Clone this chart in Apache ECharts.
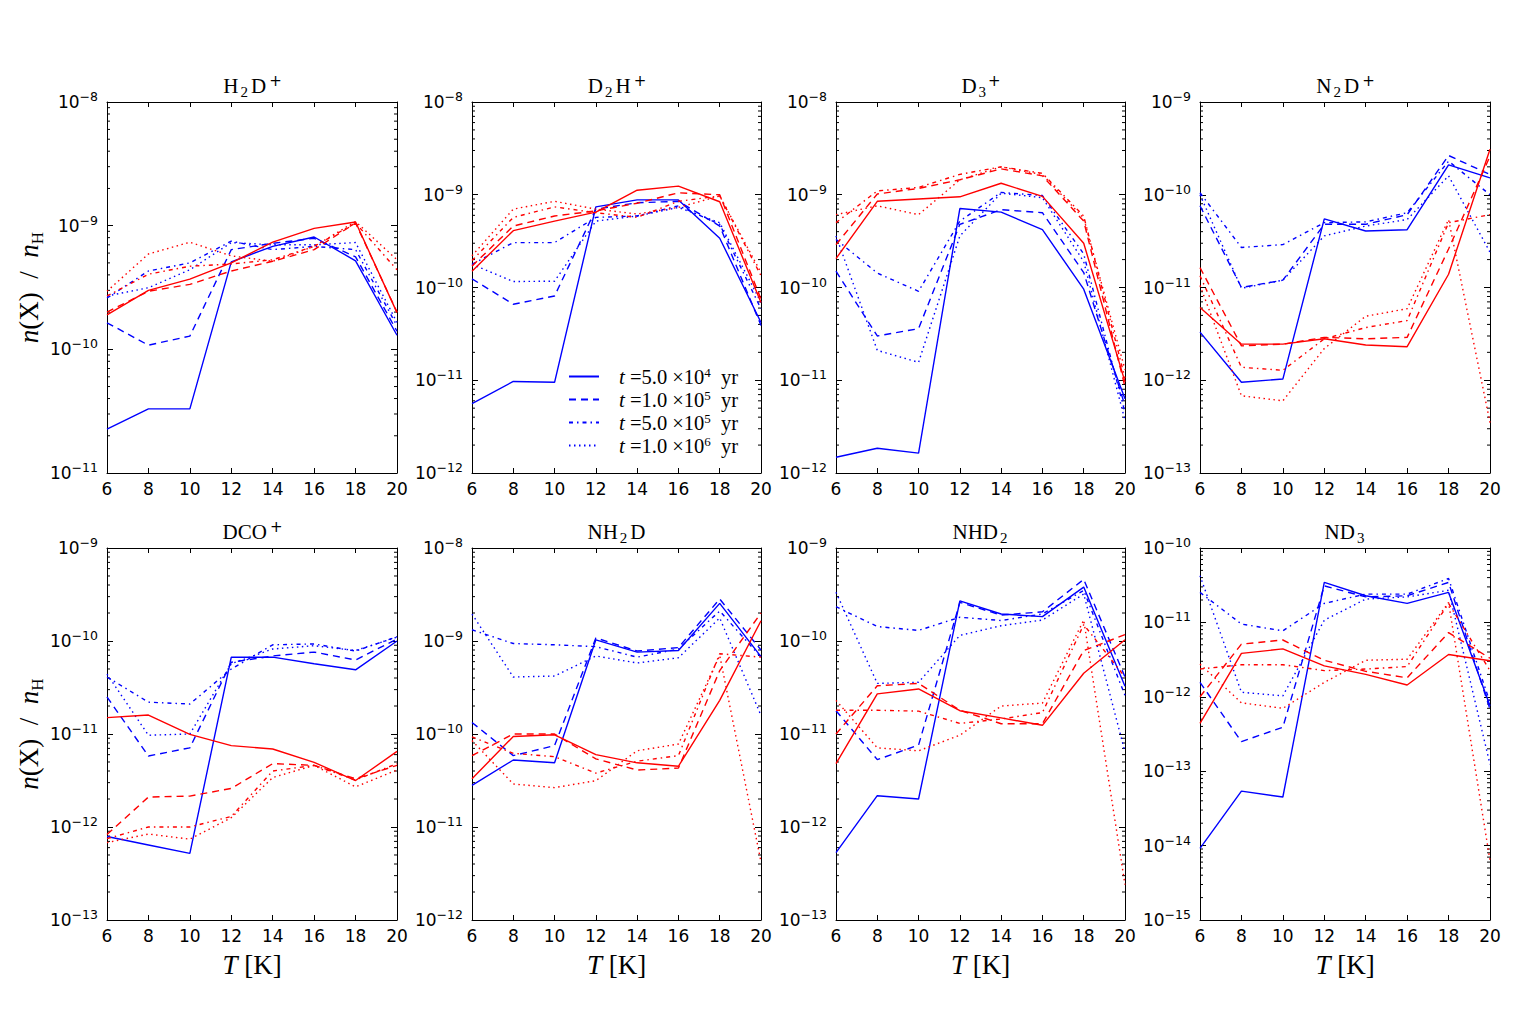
<!DOCTYPE html>
<html>
<head>
<meta charset="utf-8">
<script src="https://cdn.jsdelivr.net/npm/echarts@6/dist/echarts.min.js"></script>
<style>
  html, body { margin: 0; padding: 0; background: #fff; }
  #container { width: 1536px; height: 1024px; }
</style>
</head>
<body>
<div id="container"></div>
<script>
var dom = document.getElementById('container');
var myChart = echarts.init(dom, null, { renderer: 'svg' });

// temperatures (K)
const temps = [6, 8, 10, 12, 14, 16, 18, 20];
const timeNames = ['t=5.0e4', 't=1.0e5', 't=5.0e5', 't=1.0e6'];
const timeLegend = ['{i|t}{n| =5.0 ×10}{s|4}{n|  yr}', '{i|t}{n| =1.0 ×10}{s|5}{n|  yr}',
                    '{i|t}{n| =5.0 ×10}{s|5}{n|  yr}', '{i|t}{n| =1.0 ×10}{s|6}{n|  yr}'];

// rows: 5e4, 1e5, 5e5, 1e6 yr
const H2Dp_blue = [
  [2.26e-11, 3.3e-11, 3.3e-11, 5.1e-10, 6.8e-10, 8.1e-10, 5.2e-10, 1.3e-10],
  [1.64e-10, 1.08e-10, 1.28e-10, 6.4e-10, 7.2e-10, 7.9e-10, 5.6e-10, 1.4e-10],
  [2.6e-10, 4.3e-10, 5.0e-10, 7.5e-10, 6.4e-10, 6.8e-10, 6.4e-10, 1.55e-10],
  [2.7e-10, 3.15e-10, 4.4e-10, 7.3e-10, 7.0e-10, 7.0e-10, 7.3e-10, 1.65e-10]];
const H2Dp_red = [
  [1.9e-10, 3.0e-10, 3.7e-10, 5.0e-10, 7.35e-10, 9.5e-10, 1.07e-9, 1.98e-10],
  [2.0e-10, 2.95e-10, 3.35e-10, 4.3e-10, 5.15e-10, 6.4e-10, 1.05e-9, 2.0e-10],
  [2.7e-10, 4.05e-10, 4.7e-10, 4.9e-10, 5.3e-10, 6.8e-10, 1.05e-9, 4.4e-10],
  [2.95e-10, 5.9e-10, 7.35e-10, 5.7e-10, 5.15e-10, 6.8e-10, 1.08e-9, 5.3e-10]];

const D2Hp_blue = [
  [5.6e-12, 9.7e-12, 9.5e-12, 7.4e-10, 8.8e-10, 8.8e-10, 3.4e-10, 4.2e-11],
  [1.24e-10, 6.6e-11, 8.1e-11, 7.0e-10, 8.2e-10, 8.5e-10, 4.6e-10, 3.9e-11],
  [1.78e-10, 3.05e-10, 3.05e-10, 5.7e-10, 5.9e-10, 7.6e-10, 4.8e-10, 5.9e-11],
  [1.78e-10, 1.16e-10, 1.17e-10, 5.2e-10, 5.9e-10, 7.3e-10, 5.0e-10, 6.9e-11]];
const D2Hp_red = [
  [1.5e-10, 4.1e-10, 5.2e-10, 6.5e-10, 1.12e-9, 1.24e-9, 8.4e-10, 6.9e-11],
  [1.7e-10, 4.6e-10, 5.9e-10, 6.7e-10, 8.1e-10, 1.05e-9, 1.0e-9, 7.5e-11],
  [1.95e-10, 5.7e-10, 7.4e-10, 6.4e-10, 5.7e-10, 8.5e-10, 9.7e-10, 1.34e-10],
  [2.2e-10, 7.0e-10, 8.5e-10, 7.0e-10, 6.2e-10, 7.3e-10, 9.7e-10, 1.45e-10]];

const D3p_blue = [
  [1.48e-12, 1.85e-12, 1.64e-12, 7.1e-10, 6.5e-10, 4.2e-10, 9.6e-11, 6.3e-12],
  [1.5e-10, 3.0e-11, 3.6e-11, 4.8e-10, 6.9e-10, 6.4e-10, 1.45e-10, 5.3e-12],
  [3.3e-10, 1.43e-10, 9.1e-11, 5.2e-10, 1.06e-9, 9.8e-10, 2.3e-10, 4.5e-12],
  [3.6e-10, 2.1e-11, 1.56e-11, 3.6e-10, 1.04e-9, 9.3e-10, 1.9e-10, 3.7e-12]];
const D3p_red = [
  [2.05e-10, 8.5e-10, 9.0e-10, 9.5e-10, 1.33e-9, 9.6e-10, 3.0e-10, 9.6e-12],
  [2.9e-10, 1.02e-9, 1.17e-9, 1.45e-9, 1.9e-9, 1.6e-9, 5.2e-10, 8.5e-12],
  [5.0e-10, 1.1e-9, 1.2e-9, 1.66e-9, 2.0e-9, 1.7e-9, 5.9e-10, 1.05e-11],
  [6.1e-10, 7.6e-10, 6.1e-10, 1.45e-9, 2.0e-9, 1.65e-9, 5.6e-10, 1.3e-11]];

const N2Dp_blue = [
  [3.3e-12, 9.5e-13, 1.03e-12, 5.5e-11, 4.07e-11, 4.2e-11, 2.1e-10, 1.52e-10],
  [7.6e-11, 1.0e-11, 1.2e-11, 4.8e-11, 4.8e-11, 6.1e-11, 2.65e-10, 1.65e-10],
  [1.05e-10, 2.7e-11, 2.9e-11, 5.0e-11, 5.1e-11, 6.4e-11, 2.3e-10, 1.0e-10],
  [1.0e-10, 9.8e-12, 1.2e-11, 3.6e-11, 4.6e-11, 5.4e-11, 1.6e-10, 2.4e-11]];
const N2Dp_red = [
  [6.1e-12, 2.45e-12, 2.45e-12, 2.8e-12, 2.4e-12, 2.3e-12, 1.39e-11, 3.1e-10],
  [1.64e-11, 2.35e-12, 2.45e-12, 2.9e-12, 2.8e-12, 2.9e-12, 2.6e-11, 2.6e-10],
  [1.34e-11, 1.38e-12, 1.28e-12, 2.8e-12, 3.7e-12, 4.4e-12, 5.0e-11, 6.1e-11],
  [1.05e-11, 6.8e-13, 6.0e-13, 2.2e-12, 4.9e-12, 5.9e-12, 5.4e-11, 3.5e-13]];

const DCOp_blue = [
  [7.9e-13, 6.4e-13, 5.2e-13, 6.7e-11, 6.7e-11, 5.7e-11, 4.9e-11, 1.0e-10],
  [2.5e-11, 5.8e-12, 7.1e-12, 5.9e-11, 6.9e-11, 7.6e-11, 6.25e-11, 1.05e-10],
  [4.1e-11, 2.2e-11, 2.1e-11, 5.0e-11, 9.1e-11, 9.3e-11, 7.8e-11, 1.11e-10],
  [4.4e-11, 9.7e-12, 1.0e-11, 5.7e-11, 8.2e-11, 8.9e-11, 7.9e-11, 1.1e-10]];
const DCOp_red = [
  [1.5e-11, 1.6e-11, 9.9e-12, 7.5e-12, 6.9e-12, 4.95e-12, 3.16e-12, 6.5e-12],
  [8.3e-13, 2.1e-12, 2.15e-12, 2.6e-12, 4.8e-12, 4.6e-12, 3.3e-12, 4.6e-12],
  [7.5e-13, 1.0e-12, 1.0e-12, 1.3e-12, 4.0e-12, 4.6e-12, 3.2e-12, 4.8e-12],
  [6.8e-13, 8.4e-13, 7.4e-13, 1.26e-12, 3.4e-12, 4.6e-12, 2.7e-12, 4.1e-12]];

const NH2D_blue = [
  [2.8e-11, 5.25e-11, 4.9e-11, 1.03e-9, 7.6e-10, 7.9e-10, 2.54e-9, 6.8e-10],
  [1.33e-10, 5.85e-11, 7.5e-11, 1.08e-9, 7.8e-10, 8.5e-10, 2.83e-9, 8.0e-10],
  [1.32e-9, 9.4e-10, 9.1e-10, 8.7e-10, 6.7e-10, 8.2e-10, 2.1e-9, 6.7e-10],
  [1.95e-9, 4.1e-10, 4.2e-10, 6.9e-10, 5.8e-10, 6.6e-10, 1.77e-9, 1.58e-10]];
const NH2D_red = [
  [3.3e-11, 9.4e-11, 9.8e-11, 6.0e-11, 4.9e-11, 4.5e-11, 2.3e-10, 1.65e-9],
  [5.85e-11, 1.0e-10, 1.0e-10, 5.4e-11, 4.1e-11, 4.3e-11, 4.8e-10, 2.0e-9],
  [9.3e-11, 6.2e-11, 5.7e-11, 3.8e-11, 5.1e-11, 5.85e-11, 7.3e-10, 6.7e-10],
  [8.5e-11, 2.9e-11, 2.65e-11, 3.15e-11, 6.6e-11, 7.8e-11, 7.0e-10, 4.2e-12]];

const NHD2_blue = [
  [5.3e-13, 2.17e-12, 2.0e-12, 2.7e-10, 1.95e-10, 1.83e-10, 3.8e-10, 3.26e-11],
  [1.78e-11, 5.3e-12, 7.6e-12, 2.6e-10, 1.9e-10, 2.06e-10, 4.6e-10, 4.1e-11],
  [2.34e-10, 1.43e-10, 1.3e-10, 1.8e-10, 1.66e-10, 1.95e-10, 3.5e-10, 2.6e-11],
  [3.34e-10, 3.5e-11, 3.6e-11, 1.15e-10, 1.46e-10, 1.68e-10, 3.2e-10, 6.4e-12]];
const NHD2_red = [
  [4.8e-12, 2.7e-11, 3.05e-11, 1.78e-11, 1.49e-11, 1.24e-11, 4.5e-11, 1.03e-10],
  [1.0e-11, 3.3e-11, 3.5e-11, 1.8e-11, 1.29e-11, 1.29e-11, 7.9e-11, 1.17e-10],
  [1.8e-11, 1.8e-11, 1.76e-11, 1.3e-11, 1.45e-11, 1.7e-11, 1.5e-10, 4.1e-11],
  [2.3e-11, 7.1e-12, 6.6e-12, 9.7e-12, 2.0e-11, 2.15e-11, 1.68e-10, 2.4e-13]];

const ND3_blue = [
  [9.2e-15, 5.4e-14, 4.5e-14, 3.45e-11, 2.28e-11, 1.8e-11, 2.53e-11, 7.6e-13],
  [1.56e-12, 2.5e-13, 3.9e-13, 3.1e-11, 2.2e-11, 2.28e-11, 3.45e-11, 6.8e-13],
  [2.53e-11, 9.5e-12, 7.7e-12, 1.8e-11, 2.4e-11, 2.4e-11, 3.9e-11, 8.4e-13],
  [4.25e-11, 1.15e-12, 1.03e-12, 1.07e-11, 2.06e-11, 2.2e-11, 2.7e-11, 1.24e-13]];
const ND3_red = [
  [4.4e-13, 3.83e-12, 4.4e-12, 2.6e-12, 2.0e-12, 1.44e-12, 3.7e-12, 3.05e-12],
  [1.0e-12, 5.1e-12, 5.8e-12, 3.1e-12, 2.2e-12, 1.8e-12, 7.3e-12, 3.3e-12],
  [2.36e-12, 2.7e-12, 2.7e-12, 2.25e-12, 2.36e-12, 2.55e-12, 1.8e-11, 2.25e-12],
  [2.75e-12, 8.3e-13, 7.0e-13, 1.56e-12, 3.1e-12, 3.2e-12, 1.85e-11, 6.3e-15]];

const panels = [
  { title: '{n|H}{b|2}{n|D}{p|+}', lo: -11, hi: -8, blue: H2Dp_blue, red: H2Dp_red },
  { title: '{n|D}{b|2}{n|H}{p|+}', lo: -12, hi: -8, blue: D2Hp_blue, red: D2Hp_red },
  { title: '{n|D}{b|3}{q|+}', lo: -12, hi: -8, blue: D3p_blue, red: D3p_red },
  { title: '{n|N}{b|2}{n|D}{p|+}', lo: -13, hi: -9, blue: N2Dp_blue, red: N2Dp_red },
  { title: '{n|DCO}{p|+}', lo: -13, hi: -9, blue: DCOp_blue, red: DCOp_red },
  { title: '{n|NH}{b|2}{n|D}', lo: -12, hi: -8, blue: NH2D_blue, red: NH2D_red },
  { title: '{n|NHD}{b|2}', lo: -13, hi: -9, blue: NHD2_blue, red: NHD2_red },
  { title: '{n|ND}{b|3}', lo: -15, hi: -10, blue: ND3_blue, red: ND3_red }
];

const dashes = ['solid', [7, 5], [4, 4, 1.5, 4], [1.5, 3.5]];
const lefts = [107, 472, 836, 1200];
const widths = [290, 289, 289, 290];
const tops = [102, 548];
const heights = [371, 372];

const serif = 'Liberation Serif';
const sans = 'DejaVu Sans';
const titleRich = {
  n: { fontFamily: serif, fontSize: 21, lineHeight: 26, color: '#000', padding: [0, 1, 0, 1] },
  b: { fontFamily: serif, fontSize: 15, lineHeight: 15, verticalAlign: 'bottom', color: '#000', padding: [0, 2, 0, 1] },
  p: { fontFamily: sans, fontSize: 15, lineHeight: 14, verticalAlign: 'top', color: '#000', padding: [0, 0, 0, 2] },
  q: { fontFamily: sans, fontSize: 15, lineHeight: 14, verticalAlign: 'top', color: '#000', padding: [0, 0, 0, 0] }
};
const tickRich = {
  b: { fontFamily: sans, fontSize: 17, lineHeight: 24, color: '#000' },
  e: { fontFamily: sans, fontSize: 12.5, lineHeight: 13, verticalAlign: 'top', color: '#000' }
};
const nameRich = {
  i: { fontFamily: serif, fontStyle: 'italic', fontSize: 27, lineHeight: 34, color: '#000' },
  n: { fontFamily: serif, fontSize: 27, lineHeight: 34, color: '#000' },
  s: { fontFamily: serif, fontSize: 17, lineHeight: 17, verticalAlign: 'bottom', color: '#000' }
};

const frame = { show: true, onZero: false, lineStyle: { color: '#000', width: 1 } };
const tick = { show: true, inside: true, length: 5, lineStyle: { color: '#000', width: 1 } };

const grids = [], xAxes = [], yAxes = [], series = [];

panels.forEach(function (p, i) {
  const row = Math.floor(i / 4), col = i % 4;
  grids.push({ left: lefts[col], top: tops[row], width: widths[col], height: heights[row] });

  xAxes.push({
    gridIndex: i, type: 'value', min: 6, max: 20, interval: 2, position: 'bottom',
    axisLine: frame, axisTick: tick, splitLine: { show: false },
    axisLabel: { fontFamily: sans, fontSize: 17, color: '#000', margin: 7 },
    name: row === 1 ? '{i|T}{n| [K]}' : '', nameLocation: 'middle', nameGap: 28,
    nameTextStyle: { rich: nameRich }
  });
  xAxes.push({
    gridIndex: i, type: 'value', min: 6, max: 20, interval: 2, position: 'top',
    axisLine: frame, axisTick: tick, splitLine: { show: false }, axisLabel: { show: false },
    name: p.title, nameLocation: 'middle', nameGap: 3,
    nameTextStyle: { rich: titleRich }
  });
  yAxes.push({
    gridIndex: i, type: 'log', logBase: 10, min: Number('1e' + p.lo), max: Number('1e' + p.hi),
    position: 'left', axisLine: frame, axisTick: { show: true, inside: true, length: 6, lineStyle: { color: '#000' } },
    splitLine: { show: false },
    axisLabel: {
      margin: 9, fontFamily: sans, fontSize: 17, color: '#000',
      formatter: function (v) { return '{b|10}{e|' + String(Math.round(Math.log10(v))).replace('-', '\u2212') + '}'; },
      rich: tickRich
    },
    name: col === 0 ? '{i|n}{n|(X)  /  }{i|n}{s|H}' : '', nameLocation: 'middle', nameGap: 50,
    nameRotate: 90, nameTextStyle: { rich: nameRich }
  });
  yAxes.push({
    gridIndex: i, type: 'log', logBase: 10, min: Number('1e' + p.lo), max: Number('1e' + p.hi),
    position: 'right', axisLine: frame, axisTick: { show: true, inside: true, length: 6, lineStyle: { color: '#000' } },
    splitLine: { show: false }, axisLabel: { show: false }
  });

  // minor log ticks (2..9 x 10^n) on both sides
  const minor = [];
  for (let e = p.lo; e < p.hi; e++) {
    for (let k = 2; k <= 9; k++) minor.push([6, k * Number('1e' + e)]);
  }
  series.push({
    type: 'custom', xAxisIndex: 2 * i, yAxisIndex: 2 * i, silent: true, clip: false,
    data: minor,
    renderItem: function (params, api) {
      const v = api.value(1);
      const l = api.coord([6, v]);
      const r = api.coord([20, v]);
      return {
        type: 'group', children: [
          { type: 'line', shape: { x1: l[0], y1: l[1], x2: l[0] + 3, y2: l[1] }, style: { stroke: '#000', lineWidth: 1 } },
          { type: 'line', shape: { x1: r[0] - 3, y1: r[1], x2: r[0], y2: r[1] }, style: { stroke: '#000', lineWidth: 1 } }
        ]
      };
    }
  });

  [['blue', '#0000ff'], ['red', '#ff0000']].forEach(function (c) {
    p[c[0]].forEach(function (vals, k) {
      series.push({
        name: c[0] === 'blue' ? timeNames[k] : 'red ' + timeNames[k],
        type: 'line', xAxisIndex: 2 * i, yAxisIndex: 2 * i,
        symbol: 'none', showSymbol: false,
        data: temps.map(function (t, j) { return [t, vals[j]]; }),
        lineStyle: { color: c[1], width: 1.4, type: dashes[k], cap: 'butt' },
        itemStyle: { color: c[1] }
      });
    });
  });
});

const legendText = {};
timeNames.forEach(function (n, k) { legendText[n] = timeLegend[k]; });

option = {
  backgroundColor: '#fff',
  animation: false,
  grid: grids,
  xAxis: xAxes,
  yAxis: yAxes,
  legend: {
    data: timeNames, orient: 'vertical', left: 563, top: 361,
    itemWidth: 30, itemHeight: 14, itemGap: 2,
    itemStyle: { opacity: 0, borderWidth: 0 },
    formatter: function (name) { return legendText[name]; },
    textStyle: {
      padding: [0, 0, 0, 15],
      rich: {
        i: { fontFamily: serif, fontStyle: 'italic', fontSize: 21, lineHeight: 21, color: '#000' },
        n: { fontFamily: serif, fontSize: 20.5, lineHeight: 21, color: '#000' },
        s: { fontFamily: serif, fontSize: 13, lineHeight: 12, verticalAlign: 'top', color: '#000' }
      }
    }
  },
  series: series
};

myChart.setOption(option);
window.addEventListener('resize', myChart.resize);
</script>
</body>
</html>
